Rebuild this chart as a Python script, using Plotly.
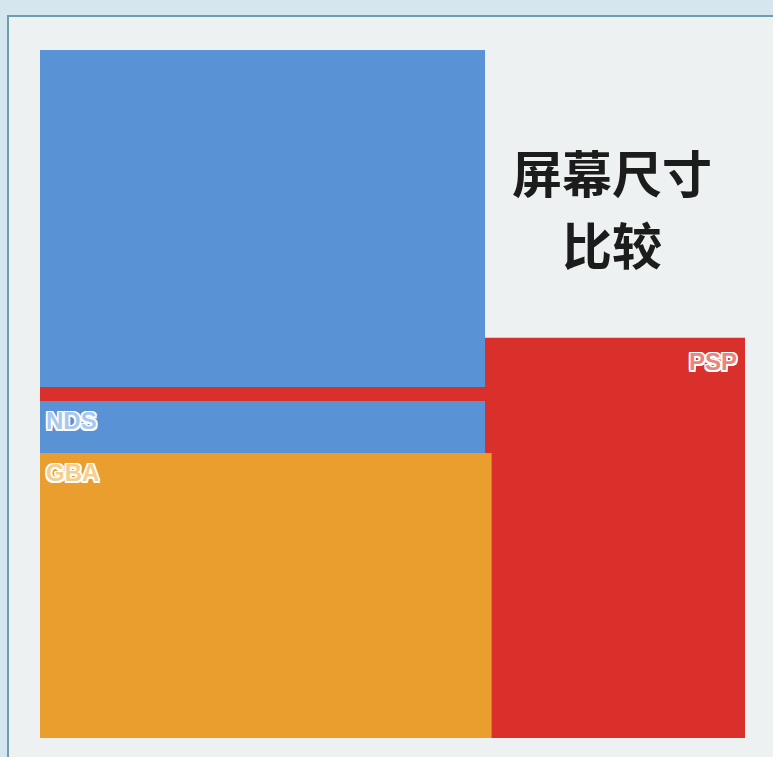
import plotly.graph_objects as go

# Screen sizes (approx. mm), drawn from bottom-left
devices = ["PSP", "NDS", "NDS", "GBA"]
widths = [96.0, 60.6, 60.6, 61.5]
heights = [54.5, 45.9, 45.9, 38.8]
bottoms = [0.0, 0.0, 47.8, 0.0]
colors = ["#d9302b", "#5a92d6", "#5a92d6", "#e99e2e"]

labels = ["PSP", "NDS", "GBA"]
label_idx = [0, 1, 3]
label_colors = ["#e9857c", "#a8c8ef", "#f3d08e"]
title_lines = ["屏幕尺寸", "比较"]
title_y = [0.804, 0.702]

fig = go.Figure()
for name, w, h, b, c in zip(devices, widths, heights, bottoms, colors):
    fig.add_trace(go.Scatter(
        x=[0, w, w, 0, 0], y=[b, b, b + h, b + h, b],
        fill="toself", fillcolor=c, mode="lines",
        line=dict(width=0, color=c), name=name, hoverinfo="name",
        showlegend=False,
    ))

outline = ("1.5px 1.5px 0 #fff, -1.5px -1.5px 0 #fff, 1.5px -1.5px 0 #fff, "
           "-1.5px 1.5px 0 #fff, 0 1.5px 0 #fff, 0 -1.5px 0 #fff, "
           "1.5px 0 0 #fff, -1.5px 0 0 #fff")
for lab, i, lc in zip(labels, label_idx, label_colors):
    top = bottoms[i] + heights[i]
    font = dict(family="Liberation Sans, Arial", size=24, color=lc,
                weight="bold", shadow=outline)
    if lab == "PSP":
        fig.add_annotation(x=widths[i], y=top, text=lab, showarrow=False,
                           xanchor="right", yanchor="top", xshift=-6, yshift=-8,
                           font=font)
    else:
        fig.add_annotation(x=0, y=top, text=lab, showarrow=False,
                           xanchor="left", yanchor="top", xshift=4, yshift=-4,
                           font=font)

for line, ty in zip(title_lines, title_y):
    fig.add_annotation(x=0.811, y=ty, xref="paper", yref="paper",
                       text=line, showarrow=False,
                       xanchor="center", yanchor="middle", align="center",
                       font=dict(family="Noto Sans CJK SC", size=50,
                                 color="#1c1c1c", weight="bold"))

# page frame
fig.add_shape(type="rect", xref="paper", yref="paper",
              x0=-0.0454, x1=1.06, y0=-0.05, y1=1.0241,
              fillcolor="#eef1f1", line=dict(color="#6c9fae", width=2),
              layer="below")

fig.update_xaxes(range=[0, 96], visible=False, fixedrange=True)
fig.update_yaxes(range=[0, 96], visible=False, fixedrange=True)
fig.update_layout(
    width=773, height=757,
    margin=dict(l=40, r=28, t=33, b=19),
    paper_bgcolor="#d6e6ee", plot_bgcolor="rgba(0,0,0,0)",
)
fig.write_html("out.html")
